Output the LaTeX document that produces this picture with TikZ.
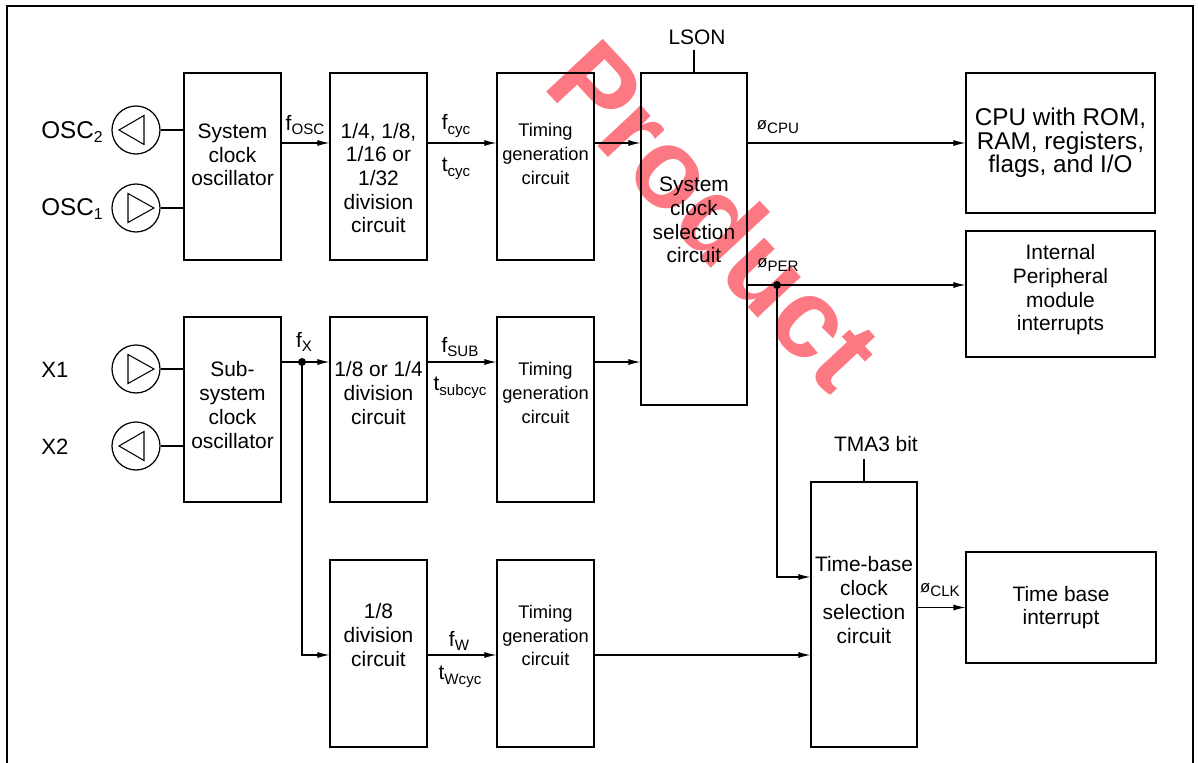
\documentclass[tikz,border=0pt]{standalone}
\usepackage{fontspec}
\setmainfont{Liberation Sans}
\usepackage{tikz}
\usetikzlibrary{arrows.meta, positioning}
\definecolor{wmark}{RGB}{252,120,130}
\newcommand{\lowtxt}[1]{\raisebox{-0.09cm}{\fontsize{8.6}{10}\selectfont #1}}
\newcommand{\phisym}{{\fontsize{9.5}{10}\selectfont ø}}

\begin{document}
\begin{tikzpicture}[x=0.02cm, y=-0.02cm, font=\fontsize{11.9}{13.5}\selectfont]
        \tikzstyle{box} = [rectangle, draw, line width=0.7pt, minimum width=1.94cm, minimum height=3.74cm, inner sep=0pt]
        \tikzstyle{selbox} = [box, minimum width=2.12cm]
        \tikzstyle{outbox} = [box, minimum width=3.78cm]
        \tikzstyle{txt} = [align=center, inner sep=0pt]
        \tikzstyle{small} = [txt, font=\fontsize{10.4}{13.4}\selectfont]
        \tikzstyle{big} = [txt, font=\fontsize{13.8}{13.4}\selectfont]
        \tikzstyle{osc} = [circle, draw, line width=0.7pt, minimum size=0.96cm, inner sep=0pt]
        \tikzstyle{dot} = [circle, fill, minimum size=0.16cm, inner sep=0pt]
        \tikzstyle{wire} = [line width=0.6pt]
        \tikzstyle{arrow} = [wire, -{Latex[length=0.24cm, width=0.12cm]}]

        \useasboundingbox (0,0) rectangle (1198,763);
        \node (wm) [rotate=-47, text=wmark, font=\fontsize{64}{64}\selectfont\bfseries] at (716,214) {Product};
        \draw [line width=1.1pt] (7,763) -- (7,6) -- (1193,6) -- (1193,763);

        \coordinate (r1) at (0,143);
        \coordinate (r2) at (0,362);
        \coordinate (r3) at (0,655);
        \coordinate (rp) at (0,285);
        \coordinate (rt) at (0,577);

        % blocks
        \node (sysosc) [box] at (232.5,166.5) {};
        \node (div1) [box] at (378.5,166.5) {};
        \node (tim1) [box] at (545.5,166.5) {};
        \node (syssel) [selbox, minimum height=6.64cm] at (694,239) {};
        \node (cpu) [outbox, minimum height=2.8cm] at (1060.5,143) {};
        \node (periph) [outbox, minimum height=2.52cm] at (1060.5,294) {};
        \node (subosc) [box, minimum height=3.7cm] at (232.5,409.5) {};
        \node (div2) [box, minimum height=3.7cm] at (378.5,409.5) {};
        \node (tim2) [box, minimum height=3.7cm] at (545.5,409.5) {};
        \node (div3) [box] at (378.5,653.5) {};
        \node (tim3) [box] at (545.5,653.5) {};
        \node (tbsel) [selbox, minimum height=5.3cm] at (864,614.5) {};
        \node (tbint) [outbox, minimum width=3.8cm, minimum height=2.22cm] at (1061,607.5) {};

        \node (sysosc-t) [txt] at ([yshift=0.23cm]sysosc.center) {System\\clock\\oscillator};
        \node (div1-t) [txt] at ([yshift=-0.23cm]div1.center) {1/4, 1/8,\\1/16 or\\1/32\\division\\circuit};
        \node (tim1-t) [small] at ([yshift=0.25cm]tim1.center) {Timing\\generation\\circuit};
        \node (syssel-t) [txt] at ([yshift=0.38cm]syssel.center) {System\\clock\\selection\\circuit};
        \node (cpu-t) [big] at (cpu.center) {CPU with ROM,\\RAM, registers,\\flags, and I/O};
        \node (periph-t) [txt] at ([yshift=0.08cm]periph.center) {Internal\\Peripheral\\module\\interrupts};
        \node (subosc-t) [txt] at ([yshift=0.09cm]subosc.center) {Sub-\\system\\clock\\oscillator};
        \node (div2-t) [txt] at ([yshift=0.33cm]div2.center) {1/8 or 1/4\\division\\circuit};
        \node (tim2-t) [small] at ([yshift=0.33cm]tim2.center) {Timing\\generation\\circuit};
        \node (div3-t) [txt] at ([yshift=0.37cm]div3.center) {1/8\\division\\circuit};
        \node (tim3-t) [small] at ([yshift=0.36cm]tim3.center) {Timing\\generation\\circuit};
        \node (tbsel-t) [txt] at ([yshift=0.29cm]tbsel.center) {Time-base\\clock\\selection\\circuit};
        \node (tbint-t) [txt] at (tbint.center) {Time base\\interrupt};

        % oscillator pins
        \node (osc2) [osc] at (136,130) {};
        \node (osc1) [osc] at (136,208) {};
        \node (x1) [osc] at (136,369) {};
        \node (x2) [osc] at (136,446) {};
        \foreach \n in {osc2, x2}
            \draw [wire] ([shift={(8,-14.5)}]\n.center) -- ([shift={(-17,0)}]\n.center) -- ([shift={(8,14.5)}]\n.center) -- cycle;
        \foreach \n in {osc1, x1}
            \draw [wire] ([shift={(-8,-14.5)}]\n.center) -- ([shift={(18,0)}]\n.center) -- ([shift={(-8,14.5)}]\n.center) -- cycle;
        \node (osc2-l) [big] at (72,132) {OSC\raisebox{-0.07cm}{\fontsize{9}{10}\selectfont 2}};
        \node (osc1-l) [big] at (72,209) {OSC\raisebox{-0.07cm}{\fontsize{9}{10}\selectfont 1}};
        \node (x1-l) [txt, font=\fontsize{12.6}{14}\selectfont] at (55,370) {X1};
        \node (x2-l) [txt, font=\fontsize{12.6}{14}\selectfont] at (55,447) {X2};
        \foreach \n in {osc2, osc1, x1, x2}
            \draw [wire] (\n) -- (\n -| sysosc.west);

        % signal labels
        \node (fosc) [txt] at (305,125) {f\lowtxt{OSC}};
        \node (fcyc) [txt] at (456,126) {f\lowtxt{cyc}};
        \node (tcyc) [txt] at (456,169) {t\lowtxt{cyc}};
        \node (fx-l) [txt] at (304,342) {f\lowtxt{X}};
        \node (fsub) [txt] at (460,347) {f\lowtxt{SUB}};
        \node (tsub) [txt] at (460,388) {t\lowtxt{subcyc}};
        \node (fw) [txt] at (459,641) {f\lowtxt{W}};
        \node (twcyc) [txt] at (460,677) {t\lowtxt{Wcyc}};
        \node (phicpu) [txt] at (778,127) {\phisym\lowtxt{CPU}};
        \node (phiper) [txt] at (778,265) {\phisym\lowtxt{PER}};
        \node (phiclk) [txt] at (940,590) {\phisym\lowtxt{CLK}};
        \node (lson) [txt] at (697,37) {LSON};
        \node (tma) [txt] at (876,444) {TMA3 bit};

        % connections
        \draw [arrow] (sysosc.east |- r1) -- (div1.west |- r1);
        \draw [arrow] (div1.east |- r1) -- (tim1.west |- r1);
        \draw [arrow] (tim1.east |- r1) -- (syssel.west |- r1);
        \draw [arrow] (syssel.east |- cpu) -- (cpu.west);
        \draw [arrow] (syssel.east |- rp) -- (periph.west |- rp);
        \node (pdot) [dot] at (777,285) {};
        \draw [arrow] (pdot.center) |- (tbsel.west |- rt);

        \node (fx) [dot] at (302,362) {};
        \draw [arrow] (subosc.east |- r2) -- (div2.west |- r2);
        \draw [arrow] (fx.center) |- (div3.west |- r3);
        \draw [arrow] (div2.east |- r2) -- (tim2.west |- r2);
        \draw [arrow] (tim2.east |- r2) -- (syssel.west |- r2);
        \draw [arrow] (div3.east |- r3) -- (tim3.west |- r3);
        \draw [arrow] (tim3.east |- r3) -- (tbsel.west |- r3);
        \draw [arrow] (tbsel.east |- tbint) -- (tbint.west);

        \draw [wire] (syssel.north) -- ([yshift=-0.1cm]lson.south -| syssel.north);
        \draw [wire] (tbsel.north) -- ([yshift=-0.14cm]tma.south -| tbsel.north);
\end{tikzpicture}
\end{document}
